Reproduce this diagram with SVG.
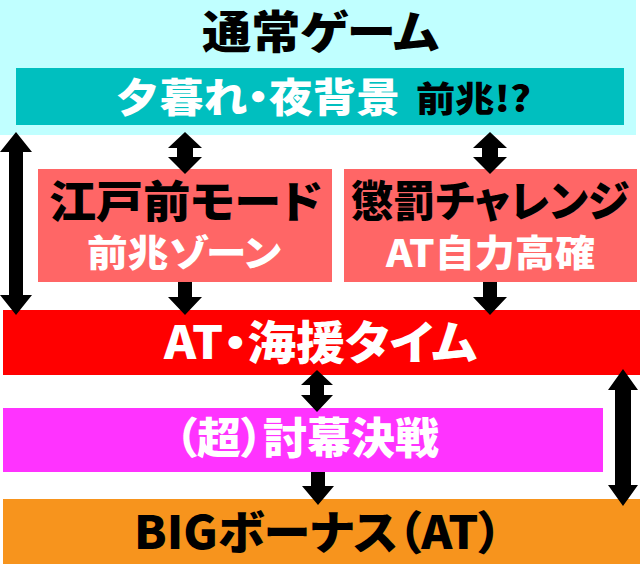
<svg xmlns="http://www.w3.org/2000/svg" width="640" height="564" viewBox="0 0 640 564">
<style>
text{font-family:"Noto Sans CJK JP","Noto Sans",sans-serif;font-weight:900;font-feature-settings:"palt";text-anchor:start}
.w{fill:#ffffff}
.k{fill:#000000}
.arr{fill:#000000}
</style>
<rect width="640" height="564" fill="#ffffff"/>
<g id="node-normal">
<rect x="0" y="0" width="636" height="135" fill="#C0FFFF"/>
<text class="k" x="202" y="49" font-size="45" textLength="237" lengthAdjust="spacingAndGlyphs">通常ゲーム</text>
</g>
<g id="node-yugure">
<rect x="16" y="68" width="608" height="57" fill="#00BFBF"/>
<text y="112"><tspan class="w" x="116" font-size="40" textLength="284" lengthAdjust="spacingAndGlyphs">夕暮れ・夜背景</tspan><tspan class="k" x="416" font-size="35" textLength="115" lengthAdjust="spacingAndGlyphs">前兆!?</tspan></text>
</g>
<g id="node-edomae">
<rect x="38" y="169" width="294" height="113" fill="#FF6666"/>
<text class="k" x="49" y="218" font-size="44" textLength="273" lengthAdjust="spacingAndGlyphs">江戸前モード</text>
<text class="w" x="87" y="267" font-size="37" textLength="194" lengthAdjust="spacingAndGlyphs">前兆ゾーン</text>
</g>
<g id="node-choubatsu">
<rect x="344" y="169" width="293" height="113" fill="#FF6666"/>
<text class="k" x="351" y="217" font-size="43" textLength="278" lengthAdjust="spacingAndGlyphs">懲罰チャレンジ</text>
<text class="w" x="386" y="267" font-size="37" textLength="209" lengthAdjust="spacingAndGlyphs">AT自力高確</text>
</g>
<g id="node-at">
<rect x="3" y="310" width="637" height="65" fill="#FF0000"/>
<text class="w" x="164" y="359" font-size="46" textLength="313" lengthAdjust="spacingAndGlyphs">AT・海援タイム</text>
</g>
<g id="node-toubaku">
<rect x="3" y="408" width="600" height="64" fill="#FF33FF"/>
<text class="w" x="175" y="454" font-size="43" textLength="264" lengthAdjust="spacingAndGlyphs">（超）討幕決戦</text>
</g>
<g id="node-big">
<rect x="3" y="499" width="637" height="65" fill="#F7941D"/>
<text class="k" x="134" y="549" font-size="46" textLength="368" lengthAdjust="spacingAndGlyphs">BIGボーナス（AT）</text>
</g>
<g id="connectors" class="arr">
<path d="M16,132 L32,152 L23,152 L23,295 L32,295 L16,315 L0,295 L9,295 L9,152 L0,152 Z"/>
<path d="M185,132 L202,148 L193,148 L193,157 L202,157 L185,174 L168,157 L177,157 L177,148 L168,148 Z"/>
<path d="M490,132 L507,148 L498,148 L498,157 L507,157 L490,174 L473,157 L482,157 L482,148 L473,148 Z"/>
<path d="M178,282 L192,282 L192,297 L202,297 L185,315 L168,297 L178,297 Z"/>
<path d="M483,282 L497,282 L497,297 L507,297 L490,315 L473,297 L483,297 Z"/>
<path d="M317,370 L333,385 L324,385 L324,395 L333,395 L317,412 L301,395 L310,395 L310,385 L301,385 Z"/>
<path d="M311,472 L325,472 L325,486 L334,486 L318,505 L302,486 L311,486 Z"/>
<path d="M623,369 L638,390 L631,390 L631,485 L638,485 L623,506 L608,485 L615,485 L615,390 L608,390 Z"/>
</g>
</svg>
